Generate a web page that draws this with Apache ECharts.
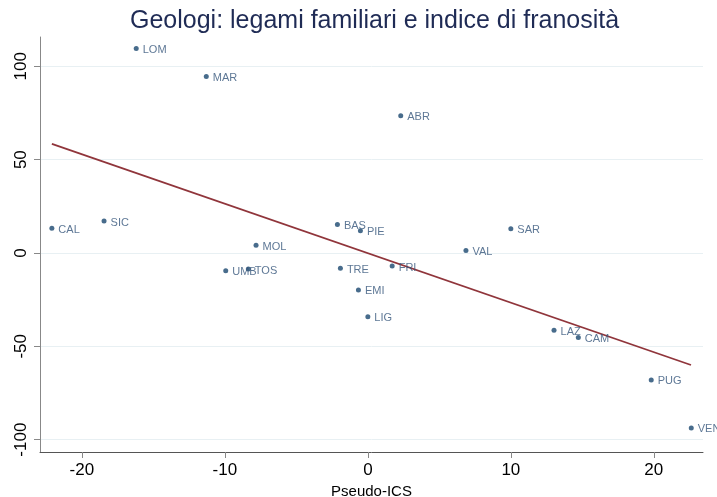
<!DOCTYPE html>
<html>
<head>
<meta charset="utf-8">
<title>Geologi</title>
<script src="https://cdn.jsdelivr.net/npm/echarts@6/dist/echarts.min.js"></script>
<style>
  html, body { margin: 0; padding: 0; background: #fff; }
  #chart { width: 717px; height: 497px; }
</style>
</head>
<body>
<div id="chart"></div>
<script>
// regioni, pseudo-ICS (x) e indice di franosita (y)
const regions = ["LOM", "MAR", "ABR", "CAL", "SIC", "BAS", "PIE", "MOL", "SAR", "VAL",
  "UMB", "TOS", "TRE", "FRI", "EMI", "LIG", "LAZ", "CAM", "PUG", "VEN"];
const pseudoIcs = [-16.2, -11.3, 2.3, -22.1, -18.45, -2.13, -0.52, -7.82, 10.0, 6.86,
  -9.94, -8.36, -1.92, 1.7, -0.66, 0.0, 13.02, 14.72, 19.82, 22.62];
const franosita = [109.6, 94.6, 73.5, 13.2, 17.1, 15.3, 11.9, 4.1, 13.0, 1.4,
  -9.5, -8.6, -8.2, -7.0, -19.8, -34.1, -41.4, -45.2, -68.0, -93.7];

// retta di regressione (estremi)
const fitX = [-22.1, 22.6];
const fitY = [58.4, -60.0];

const xTicks = [-20, -10, 0, 10, 20];
const yTicks = [-100, -50, 0, 50, 100];

const chart = echarts.init(document.getElementById("chart"));

const font = "'Liberation Sans', Arial, sans-serif";

chart.setOption({
  animation: false,
  backgroundColor: "#fff",
  title: {
    text: "Geologi: legami familiari e indice di franosità",
    left: 125,
    top: 4,
    textStyle: {
      fontFamily: font,
      fontSize: 25,
      fontWeight: "normal",
      color: "#1f2b55"
    }
  },
  grid: {
    left: 40,
    right: 14,
    top: 37,
    bottom: 45,
    containLabel: false,
    outerBoundsMode: "none"
  },
  xAxis: {
    type: "value",
    min: -22.93,
    max: 23.44,
    name: "Pseudo-ICS",
    nameLocation: "middle",
    nameGap: 32,
    nameTextStyle: { fontFamily: font, fontSize: 15, color: "#000" },
    axisLine: { show: true, onZero: false, lineStyle: { color: "#555", width: 1 } },
    axisTick: {
      show: true,
      length: 6,
      customValues: xTicks,
      lineStyle: { color: "#888" }
    },
    axisLabel: {
      customValues: xTicks,
      fontFamily: font,
      fontSize: 17,
      color: "#000",
      margin: 10
    },
    splitLine: { show: false }
  },
  yAxis: {
    type: "value",
    min: -106.6,
    max: 115.7,
    axisLine: { show: true, onZero: false, lineStyle: { color: "#888", width: 1 } },
    axisTick: {
      show: true,
      length: 6,
      customValues: yTicks,
      lineStyle: { color: "#888" }
    },
    axisLabel: {
      customValues: yTicks,
      rotate: 90,
      fontFamily: font,
      fontSize: 17,
      color: "#000",
      margin: 10
    },
    splitLine: { show: true, lineStyle: { color: "#e8f0f3", width: 1 } }
  },
  series: [
    {
      type: "scatter",
      symbol: "circle",
      symbolSize: 5,
      itemStyle: { color: "#1a476f" },
      label: {
        show: true,
        position: "right",
        distance: 4,
        offset: [0, 1.5],
        formatter: p => p.name,
        fontFamily: font,
        fontSize: 11,
        color: "#34557a"
      },
      data: regions.map((r, i) => ({ name: r, value: [pseudoIcs[i], franosita[i]] })),
      z: 3
    },
    {
      type: "line",
      symbol: "none",
      lineStyle: { color: "#90353b", width: 1.8 },
      data: fitX.map((x, i) => [x, fitY[i]]),
      z: 2
    }
  ]
});
</script>
</body>
</html>
